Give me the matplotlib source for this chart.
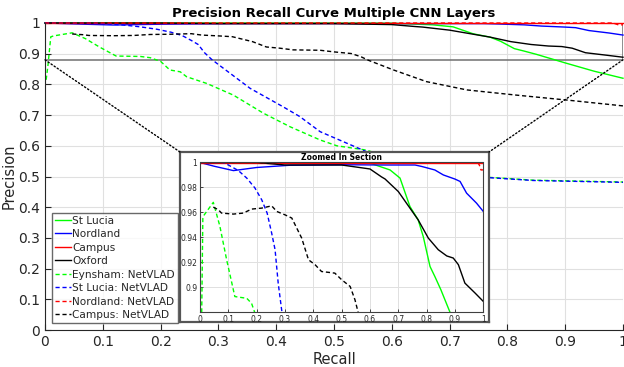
import numpy as np
import matplotlib
matplotlib.use("Agg")
import matplotlib.pyplot as plt
from matplotlib.patches import Rectangle, ConnectionPatch

# recall / precision values
st_lucia_r = [0, 0.3, 0.55, 0.6, 0.671, 0.706, 0.741, 0.77, 0.788, 0.812, 0.829, 0.85, 0.876, 0.9, 0.95, 1.0]
st_lucia_p = [1, 1, 1, 0.9995, 0.994, 0.9875, 0.9647, 0.954, 0.9406, 0.9165, 0.9085, 0.898, 0.8834, 0.87, 0.843, 0.82]

nordland_r = [0, 0.05, 0.118, 0.2, 0.318, 0.5, 0.653, 0.759, 0.783, 0.829, 0.859, 0.9, 0.918, 0.941, 0.976, 1.0]
nordland_p = [1, 0.997, 0.9935, 0.996, 0.9978, 0.9982, 0.998, 0.998, 0.9968, 0.994, 0.990, 0.9867, 0.9848, 0.9754, 0.9674, 0.9607]

campus_r = [0, 1.0]
campus_p = [1, 1]

oxford_r = [0, 0.2, 0.3, 0.5, 0.6, 0.641, 0.653, 0.7, 0.77, 0.806, 0.841, 0.871, 0.894, 0.912, 0.935, 0.971, 1.0]
oxford_p = [1, 1, 0.998, 0.998, 0.9948, 0.9884, 0.9868, 0.9767, 0.954, 0.9393, 0.930, 0.925, 0.9233, 0.918, 0.9032, 0.8952, 0.8885]

eynsham_nv_r = [0.002, 0.005, 0.01, 0.015, 0.047, 0.07, 0.094, 0.123, 0.165, 0.182, 0.2, 0.216, 0.234, 0.245,
                0.28, 0.326, 0.378, 0.424, 0.476, 0.505, 0.556, 0.6, 0.64, 0.7, 0.77, 0.845, 1.0]
eynsham_nv_p = [0.815, 0.86, 0.955, 0.958, 0.968, 0.949, 0.922, 0.8924, 0.891, 0.887, 0.875, 0.847, 0.841, 0.825,
                0.803, 0.765, 0.706, 0.662, 0.619, 0.60, 0.586, 0.56, 0.52, 0.503, 0.497, 0.488, 0.482]

st_lucia_nv_r = [0, 0.082, 0.1, 0.135, 0.165, 0.194, 0.218, 0.237, 0.253, 0.265, 0.276, 0.288, 0.297, 0.355,
                 0.412, 0.441, 0.476, 0.556, 0.6, 0.64, 0.7, 0.77, 0.845, 1.0]
st_lucia_nv_p = [1, 1, 0.998, 0.9936, 0.9875, 0.9795, 0.970, 0.9594, 0.9433, 0.930, 0.9032, 0.882, 0.869, 0.787,
                 0.727, 0.695, 0.646, 0.581, 0.55, 0.512, 0.502, 0.496, 0.487, 0.481]

nordland_nv_r = [0, 0.98, 0.986, 0.992, 1.0]
nordland_nv_p = [1, 1, 0.998, 0.994, 0.9941]

campus_nv_r = [0.047, 0.065, 0.076, 0.118, 0.153, 0.182, 0.218, 0.253, 0.271, 0.3, 0.324, 0.359, 0.383, 0.406,
               0.429, 0.476, 0.5, 0.53, 0.547, 0.559, 0.603, 0.66, 0.73, 0.816, 0.903, 1.0]
campus_nv_p = [0.9642, 0.962, 0.9594, 0.9586, 0.9594, 0.9626, 0.9634, 0.9652, 0.9607, 0.958, 0.9554, 0.9393,
               0.9219, 0.918, 0.9125, 0.9112, 0.9059, 0.9005, 0.8898, 0.879, 0.847, 0.809, 0.782, 0.765, 0.749, 0.73]

series = [
    ("St Lucia", st_lucia_r, st_lucia_p, "#00ff00", "-"),
    ("Nordland", nordland_r, nordland_p, "#0000ff", "-"),
    ("Campus", campus_r, campus_p, "#ff0000", "-"),
    ("Oxford", oxford_r, oxford_p, "black", "-"),
    ("Eynsham: NetVLAD", eynsham_nv_r, eynsham_nv_p, "#00ff00", (0, (3, 2))),
    ("St Lucia: NetVLAD", st_lucia_nv_r, st_lucia_nv_p, "#0000ff", (0, (3, 2))),
    ("Nordland: NetVLAD", nordland_nv_r, nordland_nv_p, "#ff0000", (0, (3, 2))),
    ("Campus: NetVLAD", campus_nv_r, campus_nv_p, "black", (0, (3, 2))),
]

ticks = np.round(np.arange(0, 1.01, 0.1), 1)
tick_labels = ["0"] + [f"{t:g}" for t in ticks[1:-1]] + ["1"]
dark = "#262626"

fig = plt.figure(figsize=(6.24, 3.67), dpi=100)
ax = fig.add_axes([45 / 624, 1 - 330 / 367, 578 / 624, 307 / 367])

for name, r, p, c, ls in series:
    ax.plot(r, p, color=c, linestyle=ls, lw=1, label=name, clip_on=False)

# zoomed region rectangle
ax.add_patch(Rectangle((0, 0.88), 1, 0.12, fill=False, edgecolor="#707070", lw=1.1, zorder=1.5))

ax.set_xlim(0, 1)
ax.set_ylim(0, 1)
ax.set_xticks(ticks)
ax.set_xticklabels(tick_labels)
ax.set_yticks(ticks)
ax.set_yticklabels(tick_labels)
ax.tick_params(direction="in", length=4, width=0.8, colors=dark, labelsize=10, top=False, right=False)
ax.grid(True, color="#e0e0e0", lw=0.8)
ax.set_axisbelow(True)
for s in ["top", "right"]:
    ax.spines[s].set_visible(False)
for s in ["left", "bottom"]:
    ax.spines[s].set_color(dark)
    ax.spines[s].set_linewidth(0.8)
ax.set_xlabel("Recall", fontsize=10.5, color=dark, labelpad=2)
ax.set_ylabel("Precision", fontsize=10.5, color=dark, labelpad=1)
ax.set_title("Precision Recall Curve Multiple CNN Layers", fontsize=9.5, fontweight="bold", pad=4)

leg = ax.legend(loc="lower left", bbox_to_anchor=(0.012, 0.022), fontsize=7.6, frameon=True, fancybox=False,
                handlelength=1.5, handletextpad=0.1, labelspacing=0.33, borderpad=0.3, borderaxespad=0)
leg.get_frame().set_edgecolor("#444444")
leg.get_frame().set_linewidth(1.0)
for t in leg.get_texts():
    t.set_color(dark)

# inset frame and inset axes
frame = fig.add_axes([180 / 624, 1 - 322 / 367, 309 / 624, 170 / 367])
frame.set_xticks([])
frame.set_yticks([])
frame.set_facecolor("white")
for s in frame.spines.values():
    s.set_color("#555555")
    s.set_linewidth(1.6)

ins = fig.add_axes([200 / 624, 1 - 312 / 367, 283.3 / 624, 149.5 / 367])
for name, r, p, c, ls in series:
    ins.plot(r, p, color=c, linestyle=ls, lw=1)
ins.set_xlim(0, 1)
ins.set_ylim(0.88, 1)
ins.set_xticks(ticks)
ins.set_xticklabels(tick_labels)
ins_yt = [0.9, 0.92, 0.94, 0.96, 0.98, 1.0]
ins.set_yticks(ins_yt)
ins.set_yticklabels(["0.9", "0.92", "0.94", "0.96", "0.98", "1"])
ins.tick_params(direction="in", length=2, width=0.6, colors=dark, labelsize=5.5, pad=2)
ins.grid(True, color="#e0e0e0", lw=0.7)
ins.set_axisbelow(True)
for s in ins.spines.values():
    s.set_color("#404040")
    s.set_linewidth(0.8)
ins.set_title("Zoomed In Section", fontsize=5.5, fontweight="bold", pad=1.5)

# dotted lines from the zoomed region to the inset
for xa, xb in [(0, 0), (1, 1)]:
    con = ConnectionPatch(xyA=(xa, 0.88), coordsA=ax.transData, xyB=(xb, 1), coordsB=frame.transAxes,
                          color="black", linestyle=":", lw=1)
    fig.add_artist(con)

fig.savefig("out.png", dpi=100)
